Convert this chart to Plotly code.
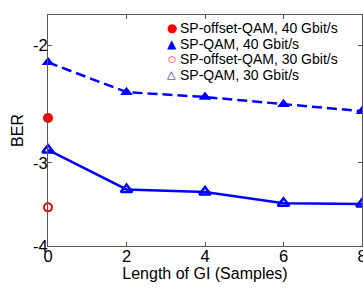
import math
import plotly.graph_objects as go

# Data (log10 BER)
gi_length = [0, 2, 4, 6, 8]
sp_qam_40 = [-2.12, -2.35, -2.39, -2.45, -2.51]
sp_qam_30 = [-2.87, -3.29, -3.32, -3.45, -3.46]
offset_x = [0]
sp_offset_qam_40 = [-2.57]
sp_offset_qam_30 = [-3.50]

y_ticks = [-2, -3, -4]
y_tick_labels = ["-2", "-3", "-4"]
x_ticks = [0, 2, 4, 6, 8]

legend_labels = ["SP-offset-QAM, 40 Gbit/s", "SP-QAM, 40 Gbit/s",
                 "SP-offset-QAM, 30 Gbit/s", "SP-QAM, 30 Gbit/s"]
legend_glyphs = ["\u25CF", "\u25B2", "<b>\u25CB</b>", "<b>\u25B3</b>"]

BLUE = "#0000FF"
RED = "#FF0000"
FONT = "Liberation Sans, Arial, sans-serif"
legend_colors = [RED, BLUE, RED, BLUE]
legend_glyph_sizes = [12, 12, 9, 11]
legend_rows_y = [0.9437, 0.8766, 0.8095, 0.7424]


def tr(v):
    # axis is logarithmic in -log10(BER)
    return [-a for a in v]


fig = go.Figure()

fig.add_trace(go.Scatter(
    x=gi_length, y=tr(sp_qam_40), mode="lines+markers", name=legend_labels[1],
    line=dict(color=BLUE, width=2.5, dash="10px,5px"),
    marker=dict(symbol="triangle-up", size=11, color=BLUE),
    showlegend=False, cliponaxis=False))
fig.add_trace(go.Scatter(
    x=gi_length, y=tr(sp_qam_30), mode="lines+markers", name=legend_labels[3],
    line=dict(color=BLUE, width=2.5),
    marker=dict(symbol="triangle-up-open", size=10, color=BLUE, line=dict(width=2.5, color=BLUE)),
    showlegend=False, cliponaxis=False))
fig.add_trace(go.Scatter(
    x=offset_x, y=tr(sp_offset_qam_40), mode="markers", name=legend_labels[0],
    marker=dict(symbol="circle", size=10, color=RED),
    showlegend=False, cliponaxis=False))
fig.add_trace(go.Scatter(
    x=offset_x, y=tr(sp_offset_qam_30), mode="markers", name=legend_labels[2],
    marker=dict(symbol="circle-open", size=8, color=RED, line=dict(width=2, color=RED)),
    showlegend=False, cliponaxis=False))

# Legend drawn as text (symbol glyph + label)
annotations = []
for label, glyph, col, gs, yy in zip(legend_labels, legend_glyphs, legend_colors,
                                     legend_glyph_sizes, legend_rows_y):
    annotations.append(dict(
        x=0.394, y=yy, xref="paper", yref="paper", xanchor="center", yanchor="middle",
        text=glyph, showarrow=False,
        font=dict(family="DejaVu Sans", size=gs, color=col)))
    annotations.append(dict(
        x=0.414, y=yy, xref="paper", yref="paper", xanchor="left", yanchor="middle",
        text=label, showarrow=False,
        font=dict(family=FONT, size=14, color="black")))

axis_common = dict(
    showline=True, linecolor="#555555", linewidth=1, mirror="ticks",
    ticks="inside", ticklen=4, tickcolor="#555555",
    showgrid=False, zeroline=False, automargin=False,
    ticklabeloverflow="allow",
    tickfont=dict(family=FONT, size=16.5, color="black"),
)

fig.update_xaxes(
    range=[0, 8], tickvals=x_ticks, ticklabelstandoff=-5,
    title=dict(text="Length of GI (Samples)", font=dict(family=FONT, size=16, color="black"), standoff=0),
    **axis_common)
fig.update_yaxes(
    type="log", range=[math.log10(4), math.log10(1.8)],
    tickvals=tr(y_ticks), ticktext=y_tick_labels, ticklabelstandoff=-4,
    title=dict(text="BER", font=dict(family=FONT, size=16, color="black"), standoff=5),
    **axis_common)

fig.update_layout(
    width=363, height=288,
    margin=dict(l=48, r=1, t=15, b=42, autoexpand=False),
    paper_bgcolor="white", plot_bgcolor="white",
    font=dict(family=FONT, color="black"),
    showlegend=False,
    annotations=annotations,
)

fig.write_html(
    "out.html",
    config={"displayModeBar": False},
    post_script="document.body.style.margin='0';document.body.style.overflow='hidden';",
)
